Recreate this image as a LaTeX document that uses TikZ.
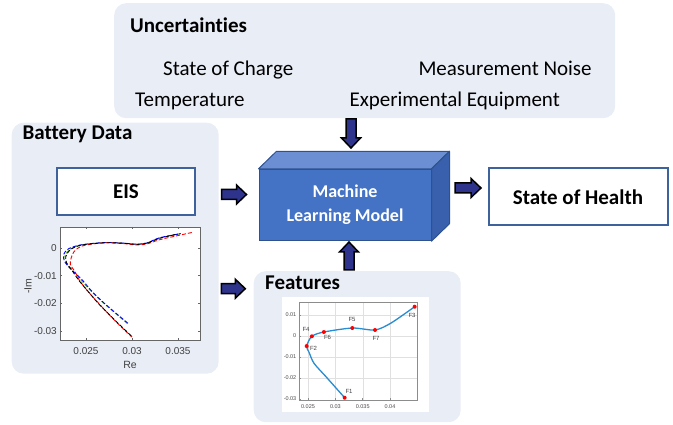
\documentclass[tikz,border=0pt]{standalone}
\usepackage{fontspec}
\setmainfont{Carlito}[RawFeature={-liga}]
\newfontfamily\plotfont{Liberation Sans}
\usetikzlibrary{calc}
\definecolor{panelfill}{RGB}{233,237,246}
\definecolor{boxblue}{RGB}{62,98,155}
\definecolor{navy}{RGB}{46,52,140}
\definecolor{mlfront}{RGB}{68,114,196}
\definecolor{mltop}{RGB}{108,143,212}
\definecolor{mlside}{RGB}{56,96,172}
\definecolor{mlborder}{RGB}{47,82,143}
\definecolor{featblue}{RGB}{40,140,210}
\definecolor{mgreen}{RGB}{90,170,40}
\tikzset{
  panel/.style={rectangle, rounded corners=12pt, fill=panelfill, draw=none, inner sep=0pt, anchor=north west},
  titletxt/.style={font=\fontsize{21}{24}\selectfont\bfseries, anchor=base west, inner sep=0pt},
  itemtxt/.style={font=\fontsize{21}{24}\selectfont, anchor=base west, inner sep=0pt},
  whitebox/.style={rectangle, draw=boxblue, line width=2pt, fill=white, font=\fontsize{21}{24}\selectfont\bfseries, inner sep=0pt},
  pics/barrow/.style={code={\draw[fill=navy, draw=black, line width=1.5pt, line join=miter]
      (-#1/2,-5) -- (#1/2-10,-5) -- (#1/2-10,-9.5) -- (#1/2,0) -- (#1/2-10,9.5) -- (#1/2-10,5) -- (-#1/2,5) -- cycle;}},
  eistick/.style={font=\plotfont\fontsize{10}{12}\selectfont, text=black!75, inner sep=0pt},
  ftick/.style={font=\plotfont\fontsize{5.5}{6}\selectfont, text=black!70, inner sep=0pt},
  flab/.style={font=\plotfont\fontsize{6}{7}\selectfont, text=black!75, inner sep=0pt},
  eiscurve/.style={line width=0.9pt, dash pattern=on 4pt off 2pt},
  fdot/.style={circle, fill=red, inner sep=0pt, minimum size=4pt},
}
\begin{document}
\begin{tikzpicture}[x=1pt,y=-1pt]
\useasboundingbox (0,0) rectangle (673,425);

% panels
\node[panel, minimum width=501pt, minimum height=115pt] (unc) at (114,3) {};
\node[panel, minimum width=207pt, minimum height=251pt] (bat) at (11.5,122.5) {};
\node[panel, minimum width=207pt, minimum height=151pt] (feat) at (253.5,271) {};

% uncertainties texts
\node[titletxt] (unct) at (130,33) {Uncertainties};
\node[itemtxt] (soc) at (163,76) {State of Charge};
\node[itemtxt] (noise) at (418.3,76) {Measurement Noise};
\node[itemtxt] (temp) at (135,106.5) {Temperature};
\node[itemtxt] (equip) at (349.3,106.5) {Experimental Equipment};

% battery data
\node[titletxt] (batt) at (22.5,140) {Battery Data};
\node[whitebox, minimum width=138pt, minimum height=47pt] (eis) at (126,192) {EIS};

% features
\node[titletxt] (featt) at (265,290) {Features};

% ML box
\node[rectangle, fill=mlfront, draw=mlborder, line width=1pt, minimum width=172pt, minimum height=71.4pt,
      text=white, align=center, font=\fontsize{18}{24}\selectfont\bfseries] (ml) at (345,205) {Machine\\Learning Model};
\filldraw[fill=mltop, draw=mlborder, line width=1pt, line join=round] (ml.north west) -- ++(18,-17.5) -- ($(ml.north east)+(18,-17.5)$) -- (ml.north east) -- cycle;
\filldraw[fill=mlside, draw=mlborder, line width=1pt, line join=round] (ml.north east) -- ++(18,-17.5) -- ($(ml.south east)+(18,-17.5)$) -- (ml.south east) -- cycle;

% state of health
\node[whitebox, minimum width=179pt, minimum height=57pt] (soh) at (578,197) {State of Health};

% block arrows
\pic at (234,194.5) {barrow=25};
\pic[rotate=-90] at (351,133.5) {barrow=29};
\pic[rotate=90] at (349,256) {barrow=28};
\pic at (233.3,288.7) {barrow=24};
\pic at (468,188) {barrow=26};

% ---------- EIS plot ----------
\fill[white] (60,227) rectangle (200,340);
\begin{scope}[shift={(86,248)}, x=9.2pt, y=2.767pt]
  \begin{scope}
  \clip (-2.826,-33.25) rectangle (12.39,7.59);
  \draw[eiscurve, mgreen] plot[smooth, tension=0.5] coordinates {(10.2,5.1) (8,3.6) (6.6,1.8) (5.5,1.35) (4.1,1.7) (2.25,1.95) (0.4,1.5) (-0.8,0.85) (-1.8,-0.6) (-2.3,-3) (-2.1,-5.4) (-1.5,-7.9) (-0.6,-11.4) (0.5,-15.4) (1.9,-19.9) (4.5,-27.3)};
  \draw[eiscurve, blue, dash phase=2pt] plot[smooth, tension=0.5] coordinates {(10.3,5.2) (8,3.7) (6.6,1.8) (5.5,1.4) (4.1,1.75) (2.25,2.0) (0.4,1.55) (-0.9,0.9) (-1.95,-0.4) (-2.45,-2.5) (-2.3,-5) (-1.6,-7.8) (-0.5,-11.2) (0.6,-15.5) (2,-20) (4.7,-27.6)};
  \draw[eiscurve, red] plot[smooth, tension=0.5] coordinates {(11.5,5.6) (10,4.5) (8,3.0) (6.6,1.45) (5.5,1.1) (4.1,1.6) (2.25,1.9) (0.6,1.4) (-0.6,0.5) (-1.3,-1.3) (-1.6,-3.5) (-1.7,-6) (-1.2,-8.5) (-0.7,-11.8) (0.3,-16) (1.6,-20.8) (3.3,-26.8) (5,-32.2)};
  \draw[eiscurve, black, dash phase=3pt] plot[smooth, tension=0.5] coordinates {(10,5.06) (8,3.5) (6.6,1.7) (5.5,1.3) (4.1,1.7) (2.25,1.9) (0.4,1.45) (-0.8,0.8) (-1.74,-0.7) (-2.2,-3.1) (-2.1,-5.5) (-1.55,-7.95) (-0.8,-11.6) (0.25,-15.8) (1.5,-20.6) (3.3,-26.6) (5,-32)};
  \end{scope}
  \draw[black!60, line width=0.6pt] (-2.826,-33.25) rectangle (12.39,7.59);
  \foreach \t in {0,5,10} {
    \draw[black!60, line width=0.6pt] (\t,-33.25) -- ++(0,0.9);
    \draw[black!60, line width=0.6pt] (\t,7.59) -- ++(0,-0.9);
  }
  \foreach \v in {0,-10,-20,-30} {
    \draw[black!60, line width=0.6pt] (-2.826,\v) -- ++(0.27,0);
    \draw[black!60, line width=0.6pt] (12.39,\v) -- ++(-0.27,0);
  }
\end{scope}
\foreach \lab/\x [count=\i] in {0.025/86,0.03/132,0.035/178}
  \node[eistick] (ex\i) at (\x,351) {\lab};
\foreach \lab/\y [count=\i] in {0/248,-0.01/276,-0.02/303.5,-0.03/331}
  \node[eistick, anchor=east] (ey\i) at (57,\y) {\lab};
\node[eistick, font=\plotfont\fontsize{10.5}{12}\selectfont] (exl) at (130,365) {Re};
\node[eistick, font=\plotfont\fontsize{10.5}{12}\selectfont, rotate=90] (eyl) at (28,286) {-Im};

% ---------- Features plot ----------
\fill[white] (282,297) rectangle (429,412);
\begin{scope}[shift={(308,336)}, x=5.47pt, y=2.1pt]
  \foreach \t in {0,5,10,15}
    \draw[black!12, line width=0.4pt] (\t,-30.5) -- (\t,16.2);
  \foreach \v in {10,0,-10,-20}
    \draw[black!12, line width=0.4pt] (-1.65,\v) -- (19.93,\v);
  \draw[black!45, line width=0.5pt] (-1.65,-30.5) rectangle (19.93,16.2);
  \foreach \t in {0,5,10,15} \draw[black!45, line width=0.5pt] (\t,-30.5) -- ++(0,0.8);
  \foreach \v in {10,0,-10,-20,-30} \draw[black!45, line width=0.5pt] (-1.65,\v) -- ++(0.3,0);
  \draw[featblue, line width=1.3pt] plot[smooth, tension=0.45] coordinates {(6.7,-29.4) (3.5,-20) (1.1,-13) (0.2,-7.8) (-0.24,-4.8) (0.7,-0.15) (2.9,1.9) (8.1,3.8) (12.25,2.86) (15.2,6.2) (19.5,13.95)};
  \node[fdot] (f1) at (6.7,-29.4) {};
  \node[fdot] (f2) at (-0.24,-4.8) {};
  \node[fdot] (f4) at (0.7,-0.15) {};
  \node[fdot] (f6) at (2.9,1.9) {};
  \node[fdot] (f5) at (8.1,3.8) {};
  \node[fdot] (f7) at (12.25,2.86) {};
  \node[fdot] (f3) at (19.5,13.95) {};
\end{scope}
\node[flab] (lf1) at (349,391) {F1};
\node[flab] (lf2) at (313.5,348.5) {F2};
\node[flab] (lf4) at (306,329) {F4};
\node[flab] (lf6) at (327.5,337.5) {F6};
\node[flab] (lf5) at (352,319) {F5};
\node[flab] (lf7) at (376,338.5) {F7};
\node[flab] (lf3) at (412,315) {F3};
\foreach \lab/\x [count=\i] in {0.025/308,0.03/335.4,0.035/362.7,0.04/390}
  \node[ftick] (fx\i) at (\x,407) {\lab};
\foreach \lab/\y [count=\i] in {0.01/315,0/336,-0.01/357,-0.02/378,-0.03/399}
  \node[ftick, anchor=east] (fy\i) at (296.5,\y) {\lab};
\end{tikzpicture}
\end{document}
